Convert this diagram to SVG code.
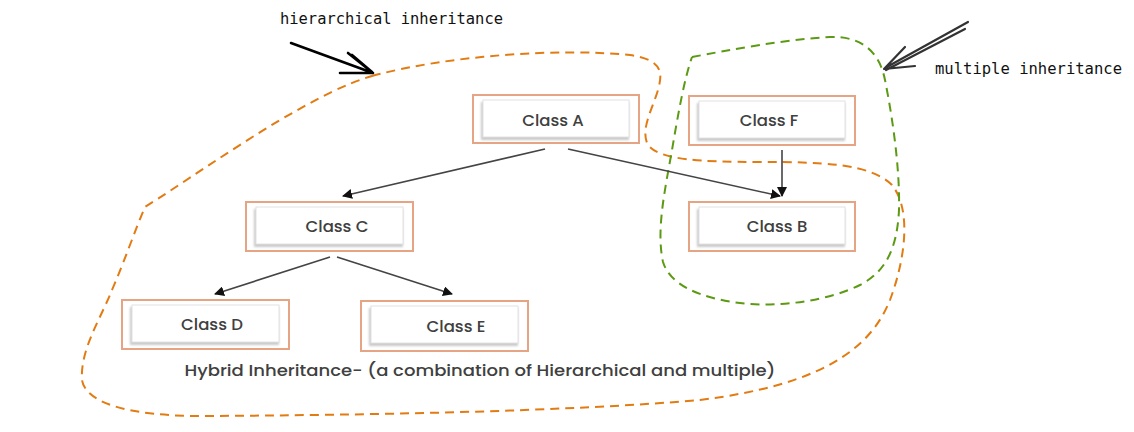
<svg xmlns="http://www.w3.org/2000/svg" width="1134" height="432" viewBox="0 0 1134 432">
<style>
.outer{fill:#fff;stroke:#e5a585;stroke-width:2}
.inner{fill:#fff;stroke:#e2e2e2;stroke-width:1}
.shadow{fill:#c9c9c9}
.lbl{font-family:"Poppins","Noto Sans","Liberation Sans",sans-serif;font-size:16.5px;font-weight:500;fill:#404040;text-anchor:middle}
.mono{font-family:"DejaVu Sans Mono","Liberation Mono",monospace;font-size:15px;fill:#111}
.conn{stroke:#444;stroke-width:1.6;fill:none;marker-end:url(#ah)}
</style>
<defs>
<marker id="ah" viewBox="0 0 10 10" refX="9" refY="5" markerWidth="10" markerHeight="10" orient="auto" markerUnits="userSpaceOnUse">
<path d="M0,0 L10,5 L0,10 z" fill="#111"/>
</marker>
<filter id="blur" x="-10%" y="-20%" width="120%" height="140%"><feGaussianBlur stdDeviation="1.2"/></filter>
</defs>
<rect width="1134" height="432" fill="#fff"/>

<g id="curve-hybrid">
<path d="M372,76 C450,55 560,48 630,55 C665,60 662,75 658,90 C652,110 640,130 648,145 C660,160 700,162 760,162 C820,162 870,163 892,185 C912,210 905,260 890,300 C870,350 820,385 700,400 C560,412 360,415 210,416 C120,417 85,400 82,380 C80,350 100,320 112,290 C125,260 135,230 145,207 C180,185 230,150 280,120 C320,97 345,84 372,76" fill="none" stroke="#e27b12" stroke-width="2" stroke-dasharray="9,6"/>
</g>
<g id="curve-multiple">
<path d="M692,57 C730,50 780,40 830,37 C865,36 880,55 885,80 C893,120 900,170 899,210 C897,250 885,272 860,285 C830,300 780,308 740,303 C700,298 670,285 663,262 C656,230 665,190 672,150 C678,115 684,80 692,57" fill="none" stroke="#5b9a12" stroke-width="2" stroke-dasharray="9,6"/>
</g>

<g id="annot-hier">
<text class="mono" x="280" y="24" textLength="223" lengthAdjust="spacingAndGlyphs">hierarchical inheritance</text>
<path d="M291,43 L373,73 M348,53 L373,73 M352,55 L372,72 M340,73 L373,73" stroke="#000" stroke-width="2.6" fill="none" stroke-linecap="round"/>
</g>
<g id="annot-mult">
<text class="mono" x="935" y="74" textLength="187" lengthAdjust="spacingAndGlyphs">multiple inheritance</text>
<path d="M968,22 L885,68 M965,29 L886,70 M905,47 L884,69 M915,66 L884,69" stroke="#333" stroke-width="2.2" fill="none" stroke-linecap="round"/>
</g>

<g id="connectors">
<line class="conn" x1="545" y1="149" x2="343" y2="196"/>
<line class="conn" x1="568" y1="149" x2="780" y2="196"/>
<line class="conn" x1="782" y1="150" x2="782" y2="196"/>
<line class="conn" x1="330" y1="257" x2="215" y2="294"/>
<line class="conn" x1="337" y1="257" x2="452" y2="294"/>
</g>

<g id="classA">
<rect class="outer" x="473" y="95" width="166" height="48"/>
<rect class="shadow" x="481" y="102" width="148" height="38" filter="url(#blur)"/>
<rect class="inner" x="483" y="100" width="146" height="37"/>
<text class="lbl" x="553" y="126">Class A</text>
</g>
<g id="classF">
<rect class="outer" x="689" y="96" width="166" height="49"/>
<rect class="shadow" x="697" y="103" width="148" height="38" filter="url(#blur)"/>
<rect class="inner" x="699" y="101" width="146" height="37"/>
<text class="lbl" x="769" y="126">Class F</text>
</g>
<g id="classC">
<rect class="outer" x="246" y="202" width="167" height="49"/>
<rect class="shadow" x="254" y="209" width="149" height="38" filter="url(#blur)"/>
<rect class="inner" x="256" y="207" width="147" height="37"/>
<text class="lbl" x="337" y="232">Class C</text>
</g>
<g id="classB">
<rect class="outer" x="689" y="202" width="166" height="49"/>
<rect class="shadow" x="697" y="209" width="148" height="38" filter="url(#blur)"/>
<rect class="inner" x="699" y="207" width="146" height="37"/>
<text class="lbl" x="777" y="232">Class B</text>
</g>
<g id="classD">
<rect class="outer" x="122" y="300" width="167" height="49"/>
<rect class="shadow" x="130" y="307" width="149" height="38" filter="url(#blur)"/>
<rect class="inner" x="132" y="305" width="147" height="37"/>
<text class="lbl" x="212" y="330">Class D</text>
</g>
<g id="classE">
<rect class="outer" x="361" y="301" width="167" height="50"/>
<rect class="shadow" x="369" y="308" width="149" height="38" filter="url(#blur)"/>
<rect class="inner" x="371" y="306" width="147" height="37"/>
<text class="lbl" x="456" y="332">Class E</text>
</g>

<g id="caption">
<text class="lbl" x="480" y="376" textLength="591" lengthAdjust="spacingAndGlyphs">Hybrid Inheritance- (a combination of Hierarchical and multiple)</text>
</g>
</svg>
